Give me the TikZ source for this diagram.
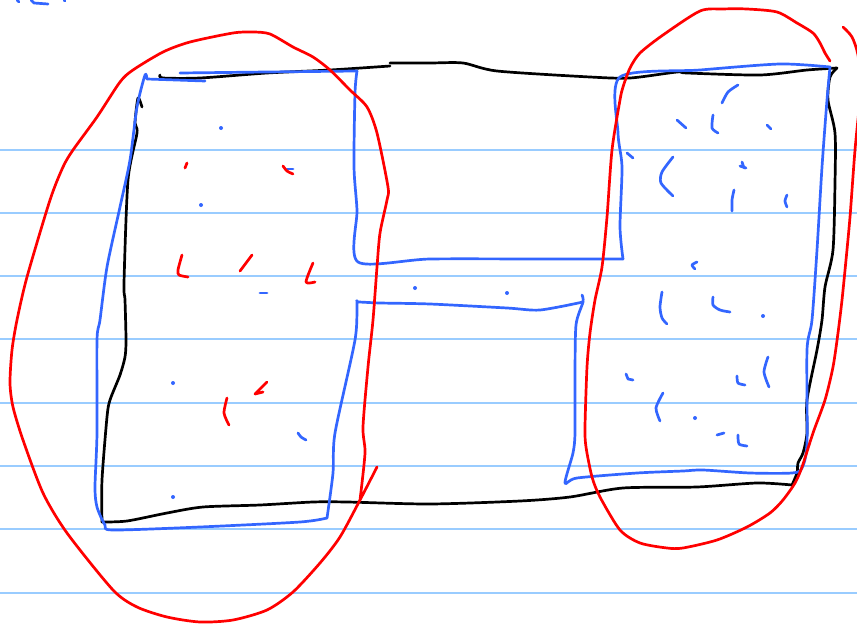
\documentclass[tikz,border=0pt]{standalone}
\definecolor{paper}{RGB}{153,204,255}
\definecolor{pen blue}{RGB}{51,102,255}
\definecolor{pen red}{RGB}{255,0,0}
\tikzset{
  ink/.style={line width=2.7pt, line cap=round, line join=round},
  blackink/.style={ink, black},
  blueink/.style={ink, pen blue},
  redink/.style={ink, pen red},
  rule/.style={paper, line width=2pt},
  sm/.style={smooth, tension=0.45}
}
\begin{document}
\begin{tikzpicture}[x=1pt,y=-1pt]
\useasboundingbox (0,0) rectangle (857,626);
\clip (0,0) rectangle (857,626);
\fill[white] (0,0) rectangle (857,626);
% ruled paper
\foreach \yy in {149.5,212.8,276.1,339.4,402.7,466,529.3,592.6}
  \draw[rule] (0,\yy) -- (857,\yy);
% top-left scribble
\draw[blueink] (17,0) -- (19,2);
\draw[blueink] (31,0) -- (34,3) -- (48,4);
\draw[blueink] (64,0) -- (65,1);
% black outline
\draw[blackink] plot[sm] coordinates {(160,75) (163,78) (200,78) (267,73) (330,70) (390,66)};
\draw[blackink] plot[sm] coordinates {(390,63) (430,63) (463,63) (497,71) (590,77) (630,78) (677,72) (687,73) (760,75) (807,70) (837,68)};
\draw[blackink] plot[sm] coordinates {(837,68) (830,77) (828,100) (835,133) (835,183) (833,250) (825,287) (822,320) (817,350) (807,400) (807,433) (803,453) (798,463) (797,473) (792,485)};
\draw[blackink] plot[sm] coordinates {(792,485) (757,483) (697,487) (623,488) (570,497) (520,501) (430,504) (347,502) (313,502) (260,505) (203,507) (167,513) (127,521) (102,522)};
\draw[blackink] plot[sm] coordinates {(102,522) (102,480) (107,417) (110,400) (120,375) (125,357) (126,340) (125,300) (124,283) (128,180) (137,133) (135,123) (138,98) (142,107)};
% left blue box
\draw[blueink] plot[sm] coordinates {(147,79) (205,81)};
\draw[blueink] plot[sm] coordinates {(180,73) (267,72) (357,71)};
\draw[blueink] plot[sm] coordinates {(357,71) (355,93) (354,167) (357,210) (358,262) (430,259) (540,259) (623,259)};
\draw[blueink] plot[sm] coordinates {(623,259) (620,227) (622,167) (618,133) (620,77) (700,70) (780,64) (830,67)};
\draw[blueink] plot[sm] coordinates {(830,67) (827,100) (822,167) (817,250) (812,320) (807,350) (807,443) (802,468) (792,473) (750,473) (703,470) (683,471) (637,473) (577,478) (565,483) (573,453) (575,433) (575,377) (576,325) (583,302) (582,295)};
\draw[blueink] plot[sm] coordinates {(583,302) (540,310) (507,308) (430,304) (380,303) (358,302) (357,303) (355,340) (335,433) (333,473) (327,518)};
\draw[blueink] plot[sm] coordinates {(327,518) (300,522) (200,527) (113,530) (105,525) (97,507) (95,487) (97,433) (97,340) (100,320) (107,267) (120,207) (130,160) (137,107) (145,75) (147,79)};
% left box marks
\foreach \p in {(221,128),(201,205),(173,383),(173,497),(415,288),(507,293),(763,316),(695,418)}
  \fill[pen blue] \p circle (2);
\draw[blueink] (260,293) -- (267,293);
\draw[blueink] (287,169) -- (293,169);
\draw[blueink] plot[sm] coordinates {(298,433) (301,437) (306,440)};
\draw[redink] (187,163) -- (185,168);
\draw[redink] plot[sm] coordinates {(283,166) (287,171) (293,174)};
\draw[redink] plot[sm] coordinates {(182,255) (178,270) (179,275) (188,277)};
\draw[redink] (252,255) -- (240,271);
\draw[redink] plot[sm] coordinates {(313,263) (306,282) (315,282)};
\draw[redink] (267,382) -- (255,394) -- (263,392);
\draw[redink] plot[sm] coordinates {(227,398) (224,413) (229,425)};
% right box marks
\draw[blueink] plot[sm] coordinates {(738,85) (728,92) (722,103)};
\draw[blueink] (677,120) -- (686,128);
\draw[blueink] plot[sm] coordinates {(713,115) (712,128) (718,133)};
\draw[blueink] (767,125) -- (771,129);
\draw[blueink] (627,153) -- (633,158);
\draw[blueink] plot[sm] coordinates {(673,157) (662,172) (661,183) (673,196)};
\draw[blueink] (742,162) -- (744,168) (740,166) -- (746,168);
\draw[blueink] plot[sm] coordinates {(734,190) (732,200) (732,211)};
\draw[blueink] plot[sm] coordinates {(787,195) (785,201) (787,207)};
\draw[blueink] plot[sm] coordinates {(697,262) (692,265) (695,269)};
\draw[blueink] plot[sm] coordinates {(662,292) (660,307) (662,318) (667,324)};
\draw[blueink] plot[sm] coordinates {(713,297) (713,305) (720,310) (730,312)};
\draw[blueink] (626,374) -- (628,379) -- (633,380);
\draw[blueink] plot[sm] coordinates {(737,376) (738,383) (745,385)};
\draw[blueink] plot[sm] coordinates {(768,357) (764,372) (769,387)};
\draw[blueink] plot[sm] coordinates {(663,393) (656,408) (660,421)};
\draw[blueink] (717,435) -- (724,433);
\draw[blueink] plot[sm] coordinates {(738,435) (739,444) (747,446)};
% red loops
\draw[redink] plot[sm] coordinates {(360,500) (365,453) (363,427) (368,367) (373,320) (377,267) (380,233) (387,200) (388,187) (377,133) (367,107) (350,90) (330,70) (313,57) (293,47) (270,34) (253,32) (233,33) (190,42) (163,52) (133,70) (120,82) (97,117) (73,150) (63,167) (50,200) (27,277) (17,320) (12,350) (10,383) (13,407) (23,440) (43,493) (67,533) (113,590) (137,607) (167,617) (200,622) (233,620) (267,610) (293,592) (320,563) (340,537) (360,500) (377,467)};
\draw[redink] plot[sm] coordinates {(830,61) (825,53) (820,43) (813,33) (797,23) (777,12) (747,9) (723,9) (700,11) (663,35) (640,53) (630,68) (623,87) (620,100) (612,150) (607,217) (602,267) (595,300) (590,333) (587,367) (585,427) (586,447) (592,477) (600,497) (620,530) (640,543) (667,548) (683,548) (717,540) (747,527) (770,513) (783,500) (795,483) (802,467) (813,433) (825,400) (833,367) (838,333) (842,300) (846,260) (850,217) (855,150) (860,100)};
\draw[redink] plot[sm] coordinates {(843,27) (852,37) (858,55) (862,90)};
\end{tikzpicture}
\end{document}
